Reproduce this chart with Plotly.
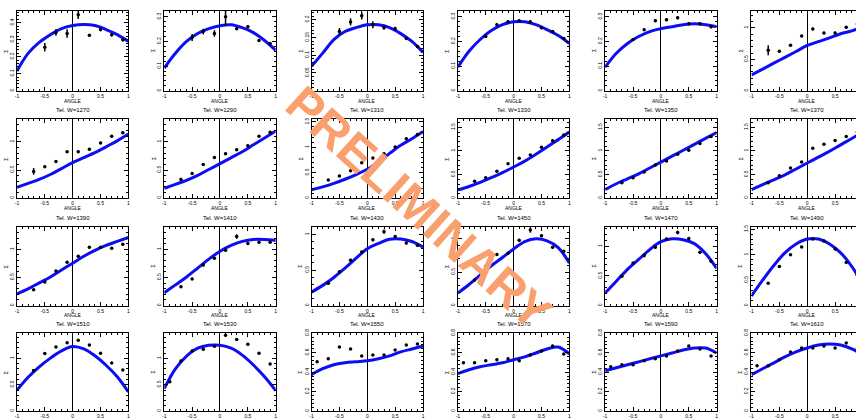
import plotly.graph_objects as go

# ---------------- data ----------------
X_CURVE = [-1.0, -0.8, -0.6, -0.4, -0.2, 0.0, 0.2, 0.4, 0.6, 0.8, 1.0]
X_POINTS = [-0.9, -0.7, -0.5, -0.3, -0.1, 0.1, 0.3, 0.5, 0.7, 0.9]
X_TICKS = [-1, -0.5, 0, 0.5, 1]
X_TICKTEXT = ["-1", "-0.5", "0", "0.5", "1"]

TITLES_ROW1 = [None, None, None, None, None, None]
TITLES_ROW2 = ["Tel. W=1270", "Tel. W=1290", "Tel. W=1310", "Tel. W=1330", "Tel. W=1350", "Tel. W=1370"]
TITLES_ROW3 = ["Tel. W=1390", "Tel. W=1410", "Tel. W=1430", "Tel. W=1450", "Tel. W=1470", "Tel. W=1490"]
TITLES_ROW4 = ["Tel. W=1510", "Tel. W=1530", "Tel. W=1550", "Tel. W=1570", "Tel. W=1590", "Tel. W=1610"]

YMAX_ROW1 = [0.47, 0.324, 0.225, 0.324, 0.324, 1.27]
YMAX_ROW2 = [1.4, 1.4, 1.55, 1.67, 1.67, 1.67]
YMAX_ROW3 = [1.4, 1.4, 1.11, 1.18, 1.33, 1.55]
YMAX_ROW4 = [1.48, 1.48, 0.8, 0.8, 0.8, 0.8]
YDTICK_ROW1 = [0.1, 0.1, 0.05, 0.1, 0.1, 0.5]
YDTICK_ROW2 = [0.5, 0.5, 0.5, 0.5, 0.5, 0.5]
YDTICK_ROW3 = [0.5, 0.5, 0.5, 0.5, 0.5, 0.5]
YDTICK_ROW4 = [0.5, 0.5, 0.2, 0.2, 0.2, 0.2]

CURVES_ROW1 = [
    [0.116, 0.22, 0.285, 0.33, 0.366, 0.384, 0.39, 0.384, 0.36, 0.33, 0.29],
    [0.092, 0.152, 0.2, 0.232, 0.252, 0.264, 0.268, 0.256, 0.236, 0.204, 0.164],
    [0.069, 0.106, 0.144, 0.167, 0.178, 0.186, 0.186, 0.178, 0.161, 0.139, 0.108],
    [0.096, 0.16, 0.208, 0.244, 0.268, 0.28, 0.28, 0.268, 0.248, 0.224, 0.192],
    [0.096, 0.152, 0.192, 0.22, 0.24, 0.252, 0.26, 0.268, 0.272, 0.268, 0.26],
    [0.25, 0.344, 0.438, 0.531, 0.625, 0.72, 0.78, 0.84, 0.906, 0.953, 1.016],
]
POINTS_ROW1 = [
    [0.256, 0.343, 0.337, 0.448, 0.326, 0.36, 0.33, 0.30],
    [0.216, 0.24, 0.232, 0.30, 0.252, 0.26, 0.204, 0.192],
    [0.167, 0.194, 0.211, 0.186, 0.178, 0.175, 0.147, 0.125],
    [0.22, 0.268, 0.28, 0.284, 0.28, 0.256, 0.24, 0.212],
    [0.208, 0.248, 0.284, 0.288, 0.296, 0.272, 0.272, 0.26],
    [0.645, 0.63, 0.723, 0.87, 0.984, 0.92, 0.92, 1.01, 1.06],
]
ERRORS_ROW1 = [
    [0.025, 0.02, 0.025, 0.025, 0.008, 0.01, 0.01, 0.01],
    [0.014, 0.012, 0.013, 0.035, 0.006, 0.006, 0.006, 0.006],
    [0.01, 0.01, 0.01, 0.01, 0.006, 0.005, 0.004, 0.004],
    [0.006, 0.006, 0.006, 0.006, 0.006, 0.006, 0.006, 0.006],
    [0.006, 0.006, 0.006, 0.006, 0.006, 0.006, 0.006, 0.006],
    [0.08, 0.02, 0.02, 0.02, 0.02, 0.02, 0.02, 0.02, 0.02],
]

CURVES_ROW2 = [
    [0.193, 0.263, 0.333, 0.42, 0.526, 0.632, 0.72, 0.807, 0.912, 1.018, 1.14],
    [0.175, 0.246, 0.316, 0.404, 0.509, 0.614, 0.719, 0.825, 0.947, 1.07, 1.193],
    [0.163, 0.222, 0.29, 0.372, 0.465, 0.568, 0.714, 0.88, 1.04, 1.167, 1.31],
    [0.175, 0.248, 0.335, 0.435, 0.54, 0.66, 0.785, 0.93, 1.085, 1.24, 1.4],
    [0.181, 0.306, 0.41, 0.515, 0.64, 0.765, 0.89, 1.015, 1.14, 1.265, 1.39],
    [0.181, 0.285, 0.39, 0.494, 0.619, 0.744, 0.869, 0.994, 1.13, 1.265, 1.41],
]
POINTS_ROW2 = [
    [0.474, 0.56, 0.65, 0.825, 0.825, 0.87, 0.98, 1.1, 1.16],
    [0.333, 0.44, 0.6, 0.72, 0.79, 0.86, 0.93, 1.1, 1.17],
    [0.358, 0.436, 0.539, 0.695, 0.79, 0.875, 1.006, 1.167, 1.253],
    [0.36, 0.43, 0.57, 0.73, 0.848, 0.917, 1.077, 1.217, 1.34],
    [0.327, 0.43, 0.556, 0.7, 0.785, 0.93, 1.015, 1.16, 1.306],
    [0.327, 0.473, 0.64, 0.765, 1.056, 1.14, 1.22, 1.306, 1.4],
]
ERRORS_ROW2 = [
    [0.06, 0.02, 0.02, 0.02, 0.02, 0.02, 0.02, 0.02, 0.02],
    [0.03, 0.02, 0.02, 0.02, 0.02, 0.02, 0.02, 0.02, 0.02],
    [0.02, 0.02, 0.02, 0.02, 0.02, 0.02, 0.02, 0.02, 0.02],
    [0.02, 0.02, 0.02, 0.02, 0.02, 0.02, 0.02, 0.02, 0.02],
    [0.02, 0.02, 0.02, 0.02, 0.02, 0.02, 0.02, 0.02, 0.02],
    [0.02, 0.02, 0.02, 0.02, 0.02, 0.02, 0.02, 0.02, 0.02],
]

CURVES_ROW3 = [
    [0.21, 0.298, 0.404, 0.509, 0.632, 0.754, 0.877, 0.982, 1.07, 1.14, 1.21],
    [0.228, 0.368, 0.509, 0.667, 0.825, 0.965, 1.07, 1.14, 1.175, 1.175, 1.158],
    [0.19, 0.285, 0.396, 0.528, 0.667, 0.801, 0.875, 0.935, 0.938, 0.903, 0.824],
    [0.187, 0.316, 0.456, 0.596, 0.72, 0.848, 0.956, 1.0, 0.97, 0.868, 0.637],
    [0.212, 0.412, 0.612, 0.778, 0.945, 1.078, 1.128, 1.112, 1.045, 0.878, 0.628],
    [0.192, 0.5, 0.788, 1.038, 1.212, 1.308, 1.308, 1.212, 1.038, 0.769, 0.404],
]
POINTS_ROW3 = [
    [0.28, 0.42, 0.614, 0.77, 0.877, 1.035, 1.035, 1.02, 1.09],
    [0.333, 0.474, 0.72, 0.842, 0.982, 1.228, 1.105, 1.123, 1.123],
    [0.315, 0.477, 0.64, 0.754, 0.926, 1.04, 0.972, 0.88, 0.85],
    [0.382, 0.588, 0.765, 0.784, 0.98, 1.13, 1.044, 0.872, 0.813],
    [0.495, 0.717, 0.845, 0.983, 1.123, 1.233, 1.133, 0.9, 0.75],
    [0.442, 0.77, 1.0, 1.154, 1.308, 1.27, 1.115, 0.846, 0.6],
]
ERRORS_ROW3 = [
    [0.02, 0.02, 0.02, 0.02, 0.02, 0.02, 0.02, 0.02, 0.02],
    [0.02, 0.02, 0.02, 0.02, 0.02, 0.04, 0.02, 0.02, 0.02],
    [0.02, 0.02, 0.02, 0.02, 0.02, 0.03, 0.02, 0.02, 0.02],
    [0.02, 0.02, 0.02, 0.02, 0.02, 0.04, 0.02, 0.02, 0.02],
    [0.02, 0.02, 0.03, 0.02, 0.02, 0.03, 0.02, 0.02, 0.02],
    [0.02, 0.02, 0.02, 0.02, 0.02, 0.02, 0.02, 0.02, 0.02],
]

CURVES_ROW4 = [
    [0.394, 0.642, 0.842, 1.007, 1.144, 1.227, 1.182, 1.051, 0.871, 0.651, 0.364],
    [0.426, 0.801, 1.045, 1.195, 1.251, 1.251, 1.195, 1.064, 0.876, 0.651, 0.388],
    [0.375, 0.435, 0.476, 0.496, 0.506, 0.516, 0.537, 0.567, 0.608, 0.638, 0.668],
    [0.385, 0.425, 0.456, 0.476, 0.496, 0.527, 0.557, 0.597, 0.638, 0.658, 0.587],
    [0.415, 0.446, 0.476, 0.506, 0.537, 0.567, 0.597, 0.628, 0.648, 0.648, 0.597],
    [0.375, 0.435, 0.496, 0.557, 0.608, 0.648, 0.678, 0.689, 0.678, 0.638, 0.577],
]
POINTS_ROW4 = [
    [0.77, 1.095, 1.22, 1.30, 1.345, 1.257, 1.1, 0.914, 0.78],
    [0.557, 0.95, 1.14, 1.176, 1.23, 1.44, 1.36, 1.27, 1.1, 0.895],
    [0.506, 0.537, 0.658, 0.638, 0.567, 0.577, 0.577, 0.628, 0.678, 0.689],
    [0.496, 0.496, 0.516, 0.527, 0.537, 0.516, 0.577, 0.618, 0.668, 0.587],
    [0.456, 0.476, 0.476, 0.516, 0.537, 0.567, 0.618, 0.668, 0.638, 0.567],
    [0.466, 0.466, 0.527, 0.608, 0.648, 0.648, 0.668, 0.648, 0.699, 0.64],
]
ERRORS_ROW4 = [
    [0.02, 0.02, 0.02, 0.02, 0.02, 0.02, 0.02, 0.02, 0.02],
    [0.02, 0.02, 0.02, 0.02, 0.02, 0.02, 0.02, 0.02, 0.02, 0.02],
    [0.01, 0.01, 0.01, 0.01, 0.01, 0.01, 0.01, 0.01, 0.01, 0.01],
    [0.01, 0.01, 0.01, 0.01, 0.01, 0.01, 0.01, 0.01, 0.01, 0.01],
    [0.01, 0.01, 0.01, 0.01, 0.01, 0.01, 0.01, 0.01, 0.01, 0.01],
    [0.01, 0.01, 0.01, 0.01, 0.01, 0.01, 0.01, 0.01, 0.01, 0.01],
]

WATERMARK = "PRELIMINARY"

# ---------------- layout geometry (pixels) ----------------
W, H = 858, 419
COL_L = [15, 163, 311, 458, 606, 753]
COL_W = 112
ROW_T = [7, 117, 226, 334]
ROW_B = [88, 197, 306, 413]

CURVES = [CURVES_ROW1, CURVES_ROW2, CURVES_ROW3, CURVES_ROW4]
POINTS = [POINTS_ROW1, POINTS_ROW2, POINTS_ROW3, POINTS_ROW4]
ERRORS = [ERRORS_ROW1, ERRORS_ROW2, ERRORS_ROW3, ERRORS_ROW4]
TITLES = [TITLES_ROW1, TITLES_ROW2, TITLES_ROW3, TITLES_ROW4]
YMAX = [YMAX_ROW1, YMAX_ROW2, YMAX_ROW3, YMAX_ROW4]
YDTICK = [YDTICK_ROW1, YDTICK_ROW2, YDTICK_ROW3, YDTICK_ROW4]

FONT = "Liberation Sans, Arial, sans-serif"
BLUE = "rgb(12,12,245)"

fig = go.Figure()
layout = {}
annotations = []

for r in range(4):
    for c in range(6):
        k = r * 6 + c + 1
        xa = "x" if k == 1 else f"x{k}"
        ya = "y" if k == 1 else f"y{k}"
        left = COL_L[c]
        right_full = left + COL_W
        right = min(right_full, W)
        xend = -1 + 2 * (right - left) / COL_W

        fig.add_trace(go.Scatter(
            x=X_CURVE, y=CURVES[r][c], mode="lines",
            line=dict(color=BLUE, width=3, shape="spline", smoothing=1.0),
            xaxis=xa, yaxis=ya, showlegend=False, hoverinfo="skip"))
        n = len(POINTS[r][c])
        fig.add_trace(go.Scatter(
            x=X_POINTS[-n:], y=POINTS[r][c], mode="markers",
            marker=dict(color="black", size=3.5),
            error_y=dict(type="data", array=ERRORS[r][c], color="black",
                         thickness=1.5, width=0),
            xaxis=xa, yaxis=ya, showlegend=False, hoverinfo="skip"))

        ymax = YMAX[r][c]
        dt = YDTICK[r][c]
        layout[f"xaxis{'' if k == 1 else k}"] = dict(
            domain=[left / W, right / W], range=[-1, xend], anchor=ya,
            showline=True, linecolor="black", linewidth=1, mirror="allticks",
            ticks="inside", ticklen=4, tickwidth=1, tickcolor="black",
            tickvals=X_TICKS, ticktext=X_TICKTEXT,
            tickfont=dict(size=5, color="black", family=FONT),
            showgrid=False, zeroline=True, zerolinecolor="black", zerolinewidth=1,
            minor=dict(ticks="inside", ticklen=2, dtick=0.1, tickcolor="black", showgrid=False),
            fixedrange=True)
        layout[f"yaxis{'' if k == 1 else k}"] = dict(
            domain=[1 - ROW_B[r] / H, 1 - ROW_T[r] / H], range=[0, ymax], anchor=xa,
            showline=True, linecolor="black", linewidth=1,
            mirror=("allticks" if c < 5 else False),
            ticks="inside", ticklen=4, tickwidth=1, tickcolor="black",
            dtick=dt, tick0=0, tickangle=-90,
            tickfont=dict(size=5, color="black", family=FONT),
            showgrid=False, zeroline=False,
            minor=dict(ticks="inside", ticklen=2, dtick=dt / 5, tickcolor="black", showgrid=False),
            fixedrange=True)

        cx = (left + right_full) / 2 / W
        if ROW_B[r] + 10 < H - 4:
            annotations.append(dict(
                text="ANGLE", x=cx, y=1 - (ROW_B[r] + 10) / H, xref="paper", yref="paper",
                showarrow=False, font=dict(size=5, color="black", family=FONT),
                xanchor="center", yanchor="middle"))
        annotations.append(dict(
            text="Σ", x=(left - 11) / W, y=1 - ((ROW_T[r] + ROW_B[r]) / 2) / H,
            xref="paper", yref="paper", showarrow=False, textangle=-90,
            font=dict(size=5, color="black", family=FONT),
            xanchor="center", yanchor="middle"))
        if TITLES[r][c]:
            annotations.append(dict(
                text=TITLES[r][c], x=cx, y=1 - (ROW_T[r] - 9) / H,
                xref="paper", yref="paper", showarrow=False,
                font=dict(size=6, color="black", family=FONT),
                xanchor="center", yanchor="middle"))

annotations.append(dict(
    text=WATERMARK, x=419 / W, y=1 - 207 / H, xref="paper", yref="paper",
    showarrow=False, textangle=42,
    font=dict(size=49, color="#FA9F6E", family=FONT, weight="bold"),
    xanchor="center", yanchor="middle"))

fig.update_layout(
    width=W, height=H, margin=dict(l=0, r=0, t=0, b=0, pad=0),
    paper_bgcolor="white", plot_bgcolor="white",
    annotations=annotations, showlegend=False, **layout)

fig.write_html("out.html", config={"displayModeBar": False})
